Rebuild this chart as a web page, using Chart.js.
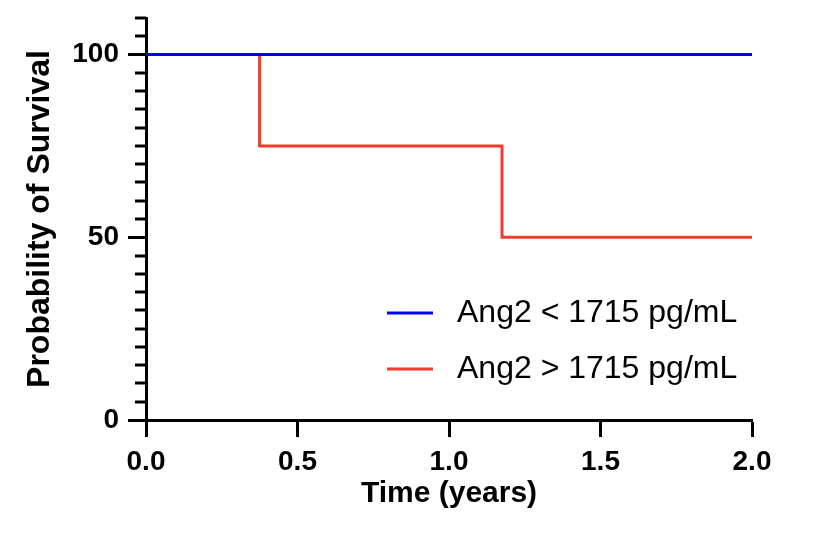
<!DOCTYPE html>
<html>
<head>
<meta charset="utf-8">
<script src="https://cdn.jsdelivr.net/npm/chart.js@4.4.1/dist/chart.umd.min.js"></script>
<style>
  html, body { margin: 0; padding: 0; background: #fff; }
  #wrap { width: 818px; height: 538px; }
</style>
</head>
<body>
<div id="wrap"><canvas id="km"></canvas></div>
<script>
// Courbes de survie (Kaplan-Meier) : Ang2 bas vs haut.
const LOW_X = [0, 2.0];
const LOW_Y = [100, 100];
const HIGH_X = [0, 0.375, 1.175, 2.0];
const HIGH_Y = [100, 75, 50, 50];
const SERIES = ['Ang2 < 1715 pg/mL', 'Ang2 > 1715 pg/mL'];
const Y_LABELS = [0, 50, 100];

const INK = '#000', BLUE = '#0000ff', RED = '#f03c2d';
const FONT = "'Liberation Sans', Arial, Helvetica, sans-serif";

const pts = (xs, ys) => xs.map((x, i) => ({ x, y: ys[i] }));

// petites graduations tous les 5 sur l'axe y
const minorTicks = {
  id: 'minorTicks',
  afterDraw(chart) {
    const { ctx } = chart, y = chart.scales.y, left = chart.chartArea.left;
    ctx.save();
    ctx.strokeStyle = INK;
    ctx.lineWidth = 3;
    for (let v = 0; v <= y.max; v += 5) {
      if (Y_LABELS.includes(v)) continue;
      const py = Math.round(y.getPixelForValue(v));
      ctx.beginPath();
      ctx.moveTo(left - 11, py);
      ctx.lineTo(left, py);
      ctx.stroke();
    }
    ctx.restore();
  },
};

// légende dans la zone de tracé
const insideLegend = {
  id: 'insideLegend',
  afterDraw(chart) {
    const { ctx } = chart;
    ctx.save();
    ctx.font = `32px ${FONT}`;
    ctx.textBaseline = 'middle';
    chart.data.datasets.forEach((ds, i) => {
      const y = 313 + i * 56;
      ctx.strokeStyle = ds.borderColor;
      ctx.lineWidth = 3;
      ctx.beginPath();
      ctx.moveTo(387, y);
      ctx.lineTo(433, y);
      ctx.stroke();
      ctx.fillStyle = INK;
      ctx.fillText(ds.label, 457, y);
    });
    ctx.restore();
  },
};

new Chart(document.getElementById('km'), {
  type: 'line',
  data: {
    datasets: [
      { label: SERIES[0], data: pts(LOW_X, LOW_Y), borderColor: BLUE, borderWidth: 3, stepped: 'before', pointRadius: 0 },
      { label: SERIES[1], data: pts(HIGH_X, HIGH_Y), borderColor: RED, borderWidth: 3, stepped: 'before', pointRadius: 0 },
    ],
  },
  options: {
    responsive: true,
    maintainAspectRatio: false,
    animation: false,
    layout: { padding: { top: 18, right: 66, left: 0, bottom: 0 } },
    plugins: { legend: { display: false }, tooltip: { enabled: false } },
    scales: {
      x: {
        type: 'linear', min: 0, max: 2,
        afterFit: (s) => { s.height = 118; },
        border: { color: INK, width: 3 },
        grid: { drawOnChartArea: false, tickLength: 17, tickColor: INK, tickWidth: 3 },
        ticks: { stepSize: 0.5, color: INK, padding: 8, font: { family: FONT, size: 28, weight: 'bold' }, callback: (v) => v.toFixed(1) },
        title: { display: true, text: 'Time (years)', color: INK, padding: { top: 0, bottom: 26 }, font: { family: FONT, size: 30, weight: 'bold' } },
      },
      y: {
        min: 0, max: 110,
        afterFit: (s) => { s.width = 146; s.paddingTop = 0; s.paddingBottom = 0; },
        border: { color: INK, width: 3 },
        grid: {
          drawOnChartArea: false, tickLength: 18, tickWidth: 3,
          tickColor: (c) => (Y_LABELS.includes(c.tick.value) ? INK : 'rgba(0,0,0,0)'),
        },
        ticks: {
          stepSize: 5, color: INK, padding: 9, autoSkip: false,
          font: { family: FONT, size: 28, weight: 'bold' },
          callback: (v) => (Y_LABELS.includes(v) ? String(v) : ''),
        },
        title: { display: true, text: 'Probability of Survival', color: INK, padding: { top: 21, bottom: 0 }, font: { family: FONT, size: 32, weight: 'bold' } },
      },
    },
  },
  plugins: [minorTicks, insideLegend],
});
</script>
</body>
</html>
